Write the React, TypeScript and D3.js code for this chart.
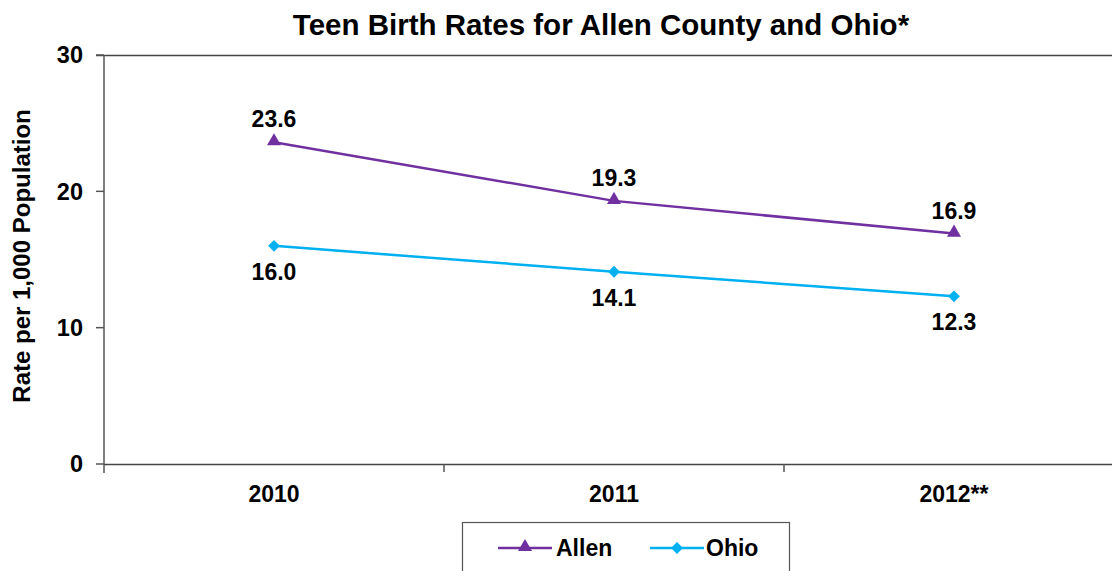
import React from "react";
import * as d3 from "d3";

const categories = ["2010", "2011", "2012**"];
const allenValues = [23.6, 19.3, 16.9];
const ohioValues = [16.0, 14.1, 12.3];
const yTicks = [0, 10, 20, 30];

const W = 1112;
const H = 571;
const FONT = "'Liberation Sans', Arial, sans-serif";
const PURPLE = "#7030A0";
const CYAN = "#00B0F0";

export default function App() {
  const left = 104;
  const top = 55;
  const bottom = 464;
  const x = d3.scaleBand<string>().domain(categories).range([left, left + 3 * 340]).padding(0);
  const y = d3.scaleLinear().domain([0, 30]).range([bottom, top]);
  const cx = (c: string) => (x(c) as number) + x.bandwidth() / 2;

  const line = d3
    .line<number>()
    .x((_, i) => cx(categories[i]))
    .y((d) => y(d));

  const tri = d3.symbol().type(d3.symbolTriangle).size(85);
  const dia = d3.symbol().type(d3.symbolSquare).size(70);

  const boundaries = categories.map((c) => (x(c) as number) + x.bandwidth()).filter((v) => v < W);

  return (
    <svg
      width={W}
      height={H}
      style={{ position: "absolute", left: 0, top: 0, background: "#fff" }}
      fontFamily={FONT}
    >
      <rect x={0} y={0} width={W} height={H} fill="#fff" />
      <text x={601} y={35} textAnchor="middle" fontSize={29.5} fontWeight="bold" fill="#000">
        Teen Birth Rates for Allen County and Ohio*
      </text>

      {/* top border */}
      <line x1={96} x2={W} y1={top + 0.5} y2={top + 0.5} stroke="#444" strokeWidth={1.5} />
      {/* y axis */}
      <line x1={left} x2={left} y1={top} y2={bottom + 9} stroke="#555" strokeWidth={1.5} />
      {yTicks.map((t) => (
        <g key={t}>
          <line x1={96} x2={left} y1={y(t)} y2={y(t)} stroke="#555" strokeWidth={1.5} />
          <text x={83} y={y(t)} dy="0.36em" textAnchor="end" fontSize={23.5} fontWeight="bold" fill="#000">
            {t}
          </text>
        </g>
      ))}
      {/* x axis */}
      <line x1={left} x2={W} y1={bottom + 0.5} y2={bottom + 0.5} stroke="#444" strokeWidth={1.5} />
      {boundaries.map((b) => (
        <line key={b} x1={b} x2={b} y1={bottom} y2={bottom + 8} stroke="#555" strokeWidth={1.5} />
      ))}
      {categories.map((c) => (
        <text key={c} x={cx(c)} y={502} textAnchor="middle" fontSize={23} fontWeight="bold" fill="#000">
          {c}
        </text>
      ))}

      <text
        transform={`translate(30,256) rotate(-90)`}
        textAnchor="middle"
        fontSize={24}
        fontWeight="bold"
        fill="#000"
      >
        Rate per 1,000 Population
      </text>

      {/* series */}
      <path d={line(allenValues) || ""} fill="none" stroke={PURPLE} strokeWidth={2.5} />
      <path d={line(ohioValues) || ""} fill="none" stroke={CYAN} strokeWidth={2.5} />
      {allenValues.map((v, i) => (
        <g key={"a" + i}>
          <path d={tri() || ""} transform={`translate(${cx(categories[i])},${y(v) - 1})`} fill={PURPLE} />
          <text x={cx(categories[i])} y={y(v) - 15} textAnchor="middle" fontSize={23} fontWeight="bold" fill="#000">
            {v.toFixed(1)}
          </text>
        </g>
      ))}
      {ohioValues.map((v, i) => (
        <g key={"o" + i}>
          <path d={dia() || ""} transform={`translate(${cx(categories[i])},${y(v)}) rotate(45)`} fill={CYAN} />
          <text x={cx(categories[i])} y={y(v) + 34} textAnchor="middle" fontSize={23} fontWeight="bold" fill="#000">
            {v.toFixed(1)}
          </text>
        </g>
      ))}

      {/* legend */}
      <rect x={462.5} y={522.5} width={327} height={60} fill="#fff" stroke="#555" strokeWidth={1.2} />
      <line x1={498} x2={552} y1={548} y2={548} stroke={PURPLE} strokeWidth={2.5} />
      <path d={tri() || ""} transform={`translate(525,547)`} fill={PURPLE} />
      <text x={556} y={556} fontSize={23} fontWeight="bold" fill="#000">
        Allen
      </text>
      <line x1={650} x2={704} y1={548} y2={548} stroke={CYAN} strokeWidth={2.5} />
      <path d={dia() || ""} transform={`translate(677,548) rotate(45)`} fill={CYAN} />
      <text x={706} y={556} fontSize={23} fontWeight="bold" fill="#000">
        Ohio
      </text>
    </svg>
  );
}
